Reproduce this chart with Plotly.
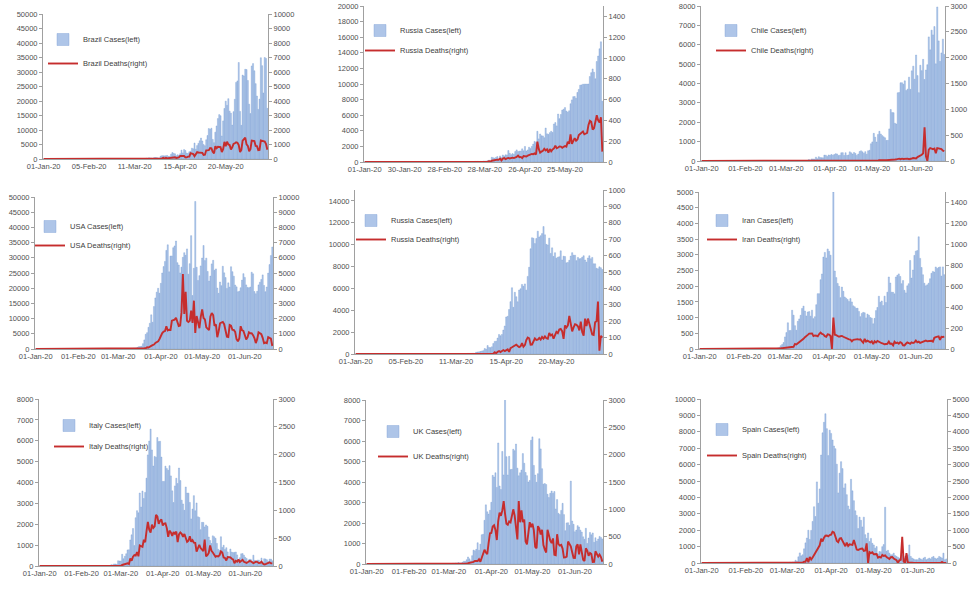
import pandas as pd
import plotly.graph_objects as go

W, H = 977, 593
dates = pd.date_range("2020-01-01", "2020-06-21", freq="D")

# ---------------- data (daily, 01-Jan-20 .. 21-Jun-20) ----------------
brazil_cases = [
    0,0,0,0,0,0,0,0,0,0, 0,0,0,0,0,0,0,0,0,0, 0,0,0,0,0,0,0,0,0,0, 0,
    0,0,0,0,0,0,0,0,0,0, 0,0,0,0,0,0,0,0,0,0, 0,0,0,0,0,0,0,0,0,
    0,1,0,1,4,5,6,6,5,9, 18,25,21,23,79,34,57,137,193,283, 224,418,345,310,232,482,502,487,352,323, 1000,
    1138,1119,1074,1146,1222,852,926,1661,2210,1930, 1781,1089,1442,1261,1832,3058,2105,3257,2917,2055,
    1927,2498,2678,3735,3503,5514,3379,4613,5385,6276,
    7218,6209,4970,4588,6633,8078,10503,10222,10611,6760, 5632,9258,11385,13944,15305,14919,7938,13140,17408,19951,
    18508,20803,16508,15813,11687,16324,20599,26417,26928,33274, 16409,
    11598,28936,28633,30925,30830,27075,18912,15654,32091,32913, 30412,25982,21704,17110,20647,34918,32188,22765,35000,34666,
    17459]
brazil_deaths = [
    0,0,0,0,0,0,0,0,0,0, 0,0,0,0,0,0,0,0,0,0, 0,0,0,0,0,0,0,0,0,0, 0,
    0,0,0,0,0,0,0,0,0,0, 0,0,0,0,0,0,0,0,0,0, 0,0,0,0,0,0,0,0,0,
    0,0,0,0,0,0,0,0,0,0, 0,0,0,0,0,0,1,2,3,5, 7,7,9,12,11,20,15,22,22,23, 42,
    39,84,35,86,41,57,67,114,133,141, 115,68,99,105,204,188,217,206,115,113, 166,165,407,357,346,189,338,474,449,435,
    428,421,275,296,600,615,610,751,730,496, 396,881,749,844,824,816,485,674,1179,888,
    1188,1001,965,653,807,1039,1086,1156,1124,956, 480,
    623,1262,1349,1473,1005,904,525,679,1272,1274, 1239,909,892,612,627,1282,1269,1238,1206,1022, 641]

russia1_cases = [
    0,0,0,0,0,0,0,0,0,0, 0,0,0,0,0,0,0,0,0,0, 0,0,0,0,0,0,0,0,0,0, 0,
    0,0,0,0,0,0,0,0,0,0, 0,0,0,0,0,0,0,0,0,0, 0,0,0,0,0,0,0,0,0,
    0,3,0,23,2,1,3,5,4,6, 11,13,6,19,15,14,18,27,35,48, 82,72,87,66,86,79,121,127,131,154, 227,
    146,601,545,478,589,693,354,773,549,896, 768,918,905,1463,1118,941,1076,991,1334,1553,
    1336,1383,1409,1684,1429,1990,1396,1543,1897,1718,
    1993,2293,2644,2487,3932,2963,3587,3364,3344,3113, 4353,3607,3524,3763,3942,3787,4864,5050,4630,6147,
    5553,6088,6654,6767,6977,6535,6387,6566,7466,7964, 8380,
    8392,8171,8909,9304,9851,9887,9971,9983,9987,9985, 9996,10956,11458,11929,11502,10667,12881,13586,14516,15413,
    7800]
russia1_deaths = [
    0,0,0,0,0,0,0,0,0,0, 0,0,0,0,0,0,0,0,0,0, 0,0,0,0,0,0,0,0,0,0, 0,
    0,0,0,0,0,0,0,0,0,0, 0,0,0,0,0,0,0,0,0,0, 0,0,0,0,0,0,0,0,0,
    0,0,0,0,0,0,0,0,0,0, 0,1,0,1,0,0,1,0,1,1, 1,2,2,1,1,4,3,6,5,4, 8,
    3,12,16,15,21,23,22,33,16,33, 37,28,35,39,34,38,42,38,42,49, 62,47,49,37,58,56,53,61,68,73,
    77,75,82,72,195,126,89,100,108,127, 111,122,89,125,103,121,130,157,132,140,
    149,148,137,146,154,148,194,175,265,175, 205,
    230,204,217,260,273,286,294,266,272,279, 357,396,386,311,325,380,450,400,380,430, 100]

chile_cases = [
    0,0,0,0,0,0,0,0,0,0, 0,0,0,0,0,0,0,0,0,0, 0,0,0,0,0,0,0,0,0,0, 0,
    0,0,0,0,0,0,0,0,0,0, 0,0,0,0,0,0,0,0,0,0, 0,0,0,0,0,0,0,0,0,
    0,0,1,0,3,1,2,3,3,4, 6,10,10,18,14,20,74,45,104,104, 92,197,114,220,176,170,164,304,299,230, 310,
    293,335,299,333,376,363,281,301,426,430, 286,426,286,312,473,422,357,440,391,286,
    356,494,526,473,394,482,352,526,552,888,
    985,1427,1228,980,1373,1533,1391,1311,1247,1197, 1059,1066,1658,2660,2502,2493,1948,1911,3520,3536,
    4038,4039,3964,4138,3636,3709,4328,3695,4654,4895, 4220,
    5471,4408,3527,4942,4664,5246,4207,4696,4969,6405, 5737,6754,6509,6938,5013,7950,6200,5143,5576,6290,
    5500]
chile_deaths = [
    0,0,0,0,0,0,0,0,0,0, 0,0,0,0,0,0,0,0,0,0, 0,0,0,0,0,0,0,0,0,0, 0,
    0,0,0,0,0,0,0,0,0,0, 0,0,0,0,0,0,0,0,0,0, 0,0,0,0,0,0,0,0,0,
    0,0,0,0,0,0,0,0,0,0, 0,0,0,0,0,0,0,0,0,0, 0,1,0,1,0,1,1,1,0,1, 4,
    4,4,3,2,3,5,4,8,8,5, 7,1,9,8,11,11,11,10,4,8, 8,10,13,8,11,8,8,9,11,13,
    9,12,10,14,12,15,12,13,18,14, 15,16,12,12,13,14,28,31,41,45,
    35,45,39,43,54,45,35,36,49,58, 57,
    49,76,87,100,120,150,650,90,0,220, 250,240,230,240,150,250,240,240,230,200, 190]

usa_cases = [
    0,0,0,0,0,0,0,0,0,0, 0,0,0,0,0,0,0,0,0,0, 0,0,0,0,0,0,0,0,0,0, 0,
    0,0,0,0,0,0,0,0,0,0, 0,0,0,0,0,0,0,0,0,0, 0,0,0,0,0,0,0,0,0,
    3,4,20,14,22,34,74,105,95,121, 200,271,287,351,511,777,823,887,1766,2988,
    4835,5374,7123,8459,11236,8789,13963,16797,18695,19979, 18360,
    21595,24998,27103,28819,32425,34272,25398,30561,30613,33323, 33901,35527,28391,27620,25023,26922,30148,31667,30833,32922,
    24601,28065,37289,17588,26543,48529,26857,22541,24132,27326,
    29917,34037,29078,29893,25501,22335,23976,28001,29162,25868, 26346,20047,18298,22025,20823,27213,25050,23502,19926,21754,
    20355,27062,25434,23961,21035,20437,18823,19017,20152,22658, 24786,
    23559,21087,20258,20148,20386,25249,24719,18901,18179,18980, 21087,21973,22885,24380,20896,18843,20396,24963,27762,30730,
    33540]
usa_deaths = [
    0,0,0,0,0,0,0,0,0,0, 0,0,0,0,0,0,0,0,0,0, 0,0,0,0,0,0,0,0,0,0, 0,
    0,0,0,0,0,0,0,0,0,0, 0,0,0,0,0,0,0,0,0,0, 0,0,0,0,0,0,0,0,0,
    0,1,1,3,1,1,2,3,4,4, 5,7,7,7,10,9,24,21,44,47, 52,109,101,130,206,253,293,401,450,502, 661,
    909,1049,1150,1180,1490,1219,1270,1256,1859,1877, 1931,2058,1825,1514,1540,2408,4928,2299,3770,1856,
    1772,1857,2524,1721,3179,1054,2172,1687,1369,2110,
    2611,2040,1947,1426,1313,1240,2142,2367,2231,1518, 1615,776,1156,1694,1743,1779,1632,1224,808,785,
    1574,1528,1263,1260,1127,650,505,691,1500,1225, 1193,
    919,633,767,1092,1027,1036,911,716,389,646, 1093,1011,981,734,382,422,386,782,724,677, 200]

russia2_cases = [
    0,0,0,0,0,0,0,0,0,0, 0,0,0,0,0,0,0,0,0,0, 0,0,0,0,0,0,0,0,0,0, 0,
    0,0,0,0,0,0,0,0,0,0, 0,0,0,0,0,0,0,0,0,0, 0,0,0,0,0,0,0,0,0,
    0,1,0,0,0,1,0,4,0,3, 2,6,17,11,18,30,21,33,52,54, 53,61,71,57,163,182,196,228,270,302, 500,
    440,771,601,582,658,954,1154,1175,1459,1786, 1667,1786,2186,2558,3388,3448,4070,4785,6060,4268,
    5642,5236,4774,5849,5966,6361,6198,6411,5841,7099,
    7933,9623,10633,10581,10102,10559,11231,10699,10817,11012, 11656,10899,10028,9974,10598,9200,9709,8926,9263,8764,
    8849,8894,9434,8599,8946,8915,8338,8371,8572,8952, 9268,
    9035,9035,8536,8831,8705,8726,8855,8985,8595,8404, 8779,8987,8706,8835,8246,8248,7843,7790,7972,7889,
    7728]
russia2_deaths = [
    0,0,0,0,0,0,0,0,0,0, 0,0,0,0,0,0,0,0,0,0, 0,0,0,0,0,0,0,0,0,0, 0,
    0,0,0,0,0,0,0,0,0,0, 0,0,0,0,0,0,0,0,0,0, 0,0,0,0,0,0,0,0,0,
    0,0,0,0,0,0,0,0,0,0, 0,0,0,0,0,0,0,0,0,0, 0,0,0,0,1,0,0,0,3,1, 2,
    2,4,4,0,2,2,11,5,13,18, 12,18,24,18,24,28,13,36,41,48, 51,57,49,42,47,66,44,54,85,101,
    96,57,58,76,95,86,88,98,88,104, 94,107,96,93,128,113,119,94,115,135,
    127,150,153,139,92,174,161,174,232,181, 138,
    162,182,178,169,144,197,134,112,216,171, 216,181,144,119,116,194,200,320,20,110, 100]

iran_cases = [
    0,0,0,0,0,0,0,0,0,0, 0,0,0,0,0,0,0,0,0,0, 0,0,0,0,0,0,0,0,0,0, 0,
    0,0,0,0,0,0,0,0,0,0, 0,0,0,0,0,0,0,0,2,3, 13,10,15,18,34,44,106,143,205,
    385,523,835,586,591,1234,1076,743,595,881, 958,1075,1289,1365,1209,1053,1178,1192,1046,1237,
    966,1028,1411,1762,1762,2206,2389,2926,3076,2901, 3186,
    3110,2987,0,5000,2483,2274,2089,1997,1634,1972, 1837,1657,1617,1574,1512,1606,1499,1374,1343,1294,
    1297,1194,1030,1134,1168,1153,991,1112,1073,1006,
    983,802,976,1223,1323,1680,1485,1529,1383,1683, 1481,1808,2294,2102,1808,1806,1757,2294,2346,2392,
    2311,2079,2180,1869,1787,2011,2080,2819,2258,2516, 2979,
    3117,3134,3574,2886,2596,2364,2095,2011,2043,2095, 2238,2410,2472,2449,2612,2563,2596,2615,2322,2615,
    2368]
iran_deaths = [
    0,0,0,0,0,0,0,0,0,0, 0,0,0,0,0,0,0,0,0,0, 0,0,0,0,0,0,0,0,0,0, 0,
    0,0,0,0,0,0,0,0,0,0, 0,0,0,0,0,0,0,0,2,0, 2,1,3,4,4,3,7,8,9,
    11,12,11,15,15,16,21,49,43,54, 63,75,85,97,113,129,135,147,149,149, 123,129,127,122,143,157,144,139,123,117, 141,
    138,124,0,300,136,133,121,117,122,125, 117,111,98,94,92,89,73,87,91,88, 94,90,93,76,60,96,71,80,71,63,
    74,47,74,63,78,68,65,55,51,45, 48,50,71,48,51,35,69,56,62,51,
    66,58,35,34,50,63,57,50,63,57, 63,
    81,64,70,59,63,72,70,81,74,75, 71,78,71,107,113,115,120,87,116,115, 119]

italy_cases = [
    0,0,0,0,0,0,0,0,0,0, 0,0,0,0,0,0,0,0,0,0, 0,0,0,0,0,0,0,0,0,0, 0,
    0,0,0,0,0,0,0,0,0,0, 0,0,0,0,0,0,0,0,0,0, 3,14,62,53,97,93,78,250,238,
    240,561,347,466,587,769,778,1247,1492,1797, 977,2313,2651,2547,3497,2823,3590,3233,3526,4207,
    5322,5986,6557,5560,4789,5249,5210,6153,5959,5974, 5217,
    4050,4053,4782,4668,4585,4805,4316,3599,3039,3836, 4204,3951,4694,4092,3153,2972,2667,3786,3493,3491,
    3047,2256,2729,3370,2646,3021,2357,2324,1739,2091,
    2086,1872,1965,1900,1389,1221,1075,1444,1401,1327, 1083,802,744,1402,888,992,789,875,675,451,
    813,665,642,652,669,531,300,397,584,593, 516,
    416,355,178,318,321,177,518,270,197,280, 283,202,379,163,346,338,301,210,328,333,
    251]
italy_deaths = [
    0,0,0,0,0,0,0,0,0,0, 0,0,0,0,0,0,0,0,0,0, 0,0,0,0,0,0,0,0,0,0, 0,
    0,0,0,0,0,0,0,0,0,0, 0,0,0,0,0,0,0,0,0,0, 0,1,2,1,3,4,1,5,4,
    5,18,27,28,41,49,36,133,97,168, 196,189,250,175,368,349,345,475,427,627,
    793,651,601,743,683,712,919,889,756,812, 837,
    727,760,766,681,525,636,604,542,610,570, 619,431,566,602,578,525,575,482,433,454,
    534,437,464,420,415,260,333,382,323,285,
    269,474,174,195,236,369,274,243,194,165, 179,172,195,262,242,153,145,99,162,161,
    156,130,119,50,92,78,117,70,87,111, 75,
    60,55,71,88,85,72,53,65,79,71, 53,56,78,44,26,34,43,44,66,47, 49]

uk_cases = [
    0,0,0,0,0,0,0,0,0,0, 0,0,0,0,0,0,0,0,0,0, 0,0,0,0,0,0,0,0,0,0, 0,
    0,0,0,0,0,0,0,0,0,0, 0,0,0,0,0,0,0,0,0,0, 0,0,0,0,0,0,0,0,0,
    13,4,11,34,30,48,43,67,48,52, 83,134,117,208,342,251,152,407,676,643,
    714,1035,665,967,1427,1452,2129,2885,2546,2433, 2619,
    3009,4324,4244,4450,3735,5903,3802,3634,5491,4344, 8681,5233,4342,5252,4603,4617,5599,5525,5850,4676,
    4301,4451,4583,5386,4913,4463,4309,3996,4076,6032,
    6201,4806,4339,3985,4406,6111,5614,4649,3896,3923, 3877,3403,3242,3446,3560,3450,3534,2684,3142,2472,
    2412,2615,2959,2409,1625,2004,2013,1887,4043,2095, 1936,
    1570,1653,1871,1805,1650,1557,1326,1205,1741,1003, 1266,1541,1425,1514,1056,1279,1115,1218,1346,1295,
    1221]
uk_deaths = [
    0,0,0,0,0,0,0,0,0,0, 0,0,0,0,0,0,0,0,0,0, 0,0,0,0,0,0,0,0,0,0, 0,
    0,0,0,0,0,0,0,0,0,0, 0,0,0,0,0,0,0,0,0,0, 0,0,0,0,0,0,0,0,0,
    0,0,0,0,1,1,0,1,0,1, 2,1,1,10,14,20,16,33,40,56, 48,54,87,41,115,181,260,209,180,381, 563,
    569,684,708,621,439,786,938,881,980,1150, 917,737,717,778,761,861,1000,888,596,449,
    1150,763,980,768,813,413,360,586,765,674,
    739,621,315,288,693,649,539,626,346,268, 210,627,494,428,384,468,170,160,545,363,
    338,351,282,118,121,134,412,377,324,215, 113,
    111,324,359,176,357,204,77,55,286,245, 151,202,181,36,38,233,184,135,173,128, 43]

spain_cases = [
    0,0,0,0,0,0,0,0,0,0, 0,0,0,0,0,0,0,0,0,0, 0,0,0,0,0,0,0,0,0,0, 0,
    0,0,0,0,0,0,0,0,0,0, 0,0,0,0,0,0,0,0,0,0, 0,0,0,0,1,4,5,2,13,
    13,6,45,37,60,60,164,99,375,616, 435,501,864,1227,1522,2000,1438,1987,2538,3431,
    2833,4946,3646,4517,6584,7937,8578,9100,8189,6549, 8100,
    7900,7500,7134,6969,6023,4273,5478,6180,5756,4576, 4830,4167,3477,3268,5103,4400,3800,3183,2900,2100,
    2800,2600,2200,2796,1729,1500,1831,1308,1500,1200,
    1100,900,1000,545,700,685,996,1122,3400,721, 772,600,500,500,600,450,400,350,300,250,
    500,400,300,350,500,1100,400,300,250,200, 200,
    200,300,250,200,300,350,200,250,300,250, 350,400,300,250,300,400,350,300,600,200,
    250]
spain_deaths = [
    0,0,0,0,0,0,0,0,0,0, 0,0,0,0,0,0,0,0,0,0, 0,0,0,0,0,0,0,0,0,0, 0,
    0,0,0,0,0,0,0,0,0,0, 0,0,0,0,0,0,0,0,0,0, 0,0,0,0,0,0,0,0,0,
    0,0,1,0,2,3,5,7,8,12, 19,12,37,36,152,21,182,107,169,235, 324,394,462,539,738,655,769,832,838,812, 849,
    864,950,932,809,674,637,743,757,683,605, 510,619,517,567,557,551,700,565,410,399,
    430,435,440,367,378,600,0,331,301,325,
    268,281,276,164,185,164,244,213,229,179, 143,123,176,184,138,102,87,0,83,95,
    800,47,0,300,0,10,0,10,5,2, 5,
    5,2,1,5,1,0,1,0,0,1, 0,1,0,0,1,0,0,30,1,0, 0]

# tick schedules (label every N days, or monthly)
ticks_35d = 35 * 86400000
ticks_29d = 29 * 86400000

panels = [
    dict(name="Brazil", cases=brazil_cases, deaths=brazil_deaths, y1=(50000, 5000), y2=(10000, 1000), dt=ticks_35d,
         box=(43, 268, 14, 159), leg=(83, 41, 24)),
    dict(name="Russia", cases=russia1_cases, deaths=russia1_deaths, y1=(20000, 2000), y2=(1500, 200), dt=ticks_29d,
         box=(364, 603, 6, 162), leg=(400, 32, 20)),
    dict(name="Chile", cases=chile_cases, deaths=chile_deaths, y1=(8000, 1000), y2=(3000, 500), dt="M1",
         box=(701, 945, 6, 161), leg=(751, 32, 20)),
    dict(name="USA", cases=usa_cases, deaths=usa_deaths, y1=(50000, 5000), y2=(10000, 1000), dt="M1",
         box=(35, 273, 197, 349), leg=(70, 228, 18)),
    dict(name="Russia", cases=russia2_cases, deaths=russia2_deaths, y1=(15000, 2000), y2=(1000, 100), dt=ticks_35d,
         box=(355, 603, 190, 354), leg=(391, 222, 19)),
    dict(name="Iran", cases=iran_cases, deaths=iran_deaths, y1=(5000, 500), y2=(1500, 200), dt="M1",
         box=(699, 945, 192, 349), leg=(742, 222, 18)),
    dict(name="Italy", cases=italy_cases, deaths=italy_deaths, y1=(8000, 1000), y2=(3000, 500), dt="M1",
         box=(39, 273, 399, 566), leg=(89, 427, 21)),
    dict(name="UK", cases=uk_cases, deaths=uk_deaths, y1=(8000, 1000), y2=(3000, 500), dt="M1",
         box=(366, 603, 400, 564), leg=(413, 433, 25)),
    dict(name="Spain", cases=spain_cases, deaths=spain_deaths, y1=(10000, 1000), y2=(5000, 500), dt="M1",
         box=(701, 947, 399, 563), leg=(742, 431, 26)),
]

for p in panels:
    assert len(p["cases"]) == len(dates), (p["name"], len(p["cases"]))
    assert len(p["deaths"]) == len(dates), (p["name"], len(p["deaths"]))

BAR = "#aec5e8"
BAR_EDGE = "#7a9ed4"
RED = "#c62d2d"
AX = "#a0a0a0"
TXT = "#505050"
FONT = "Liberation Sans Narrow, Liberation Sans, Arial, sans-serif"

fig = go.Figure()
layout = dict(width=W, height=H, margin=dict(l=0, r=0, t=0, b=0, pad=0, autoexpand=False), autosize=False,
              paper_bgcolor="white", plot_bgcolor="white", bargap=0.2, showlegend=True,
              font=dict(family=FONT, size=8, color=TXT))

def sfx(n):
    return "" if n == 1 else str(n)

for k, p in enumerate(panels, start=1):
    xn, yl, yr = k, 2 * k - 1, 2 * k
    lg = "legend" + sfx(k)
    fig.add_trace(go.Bar(x=dates, y=p["cases"], name=p["name"] + " Cases(left)",
                         marker=dict(color=BAR, line=dict(width=0.4, color=BAR_EDGE)),
                         xaxis="x" + sfx(xn), yaxis="y" + sfx(yl), legend=lg, legendgroup=f"c{k}"))
    fig.add_trace(go.Scatter(x=dates, y=p["deaths"], name=p["name"] + " Deaths(right)", mode="lines",
                             line=dict(color=RED, width=1.9),
                             xaxis="x" + sfx(xn), yaxis="y" + sfx(yr), legend=lg, legendgroup=f"d{k}"))
    x0, x1, y0, y1 = p["box"]
    layout["xaxis" + sfx(xn)] = dict(
        domain=[x0 / W, x1 / W], anchor="y" + sfx(yl), automargin=False,
        range=["2019-12-31 12:00", "2020-06-21 12:00"], type="date",
        tick0="2020-01-01", dtick=p["dt"], tickformat="%d-%b-%y", tickangle=0,
        showline=True, linecolor=AX, linewidth=1, ticks="", showgrid=False, zeroline=False,
        tickfont=dict(size=7.5, color=TXT), fixedrange=True)
    layout["yaxis" + sfx(yl)] = dict(
        domain=[1 - y1 / H, 1 - y0 / H], anchor="x" + sfx(xn), automargin=False,
        range=[0, p["y1"][0]], dtick=p["y1"][1], tick0=0, tickformat="d",
        showline=True, linecolor=AX, linewidth=1, ticks="outside", ticklen=3, tickcolor=AX,
        showgrid=False, zeroline=False, tickfont=dict(size=7.5, color=TXT))
    layout["yaxis" + sfx(yr)] = dict(
        overlaying="y" + sfx(yl), side="right", anchor="x" + sfx(xn), automargin=False,
        range=[0, p["y2"][0]], dtick=p["y2"][1], tick0=0, tickformat="d",
        showline=True, linecolor=AX, linewidth=1, ticks="outside", ticklen=3, tickcolor=AX,
        showgrid=False, zeroline=False, tickfont=dict(size=7.5, color=TXT))
    lx, ly, gap = p["leg"]
    layout[lg] = dict(x=(lx - 40) / W, y=1 - (ly - 16) / H, xanchor="left", yanchor="top",
                      bgcolor="rgba(0,0,0,0)", font=dict(size=7.5, color="#404040", family=FONT),
                      traceorder="grouped", tracegroupgap=max(gap - 19, 0), itemwidth=30)

fig.update_layout(**layout)
# remove the browser's default 8px page margin so the figure sits at the window's corner
fig.write_html("out.html", config={"displayModeBar": False},
               post_script="document.body.style.margin='0';")
